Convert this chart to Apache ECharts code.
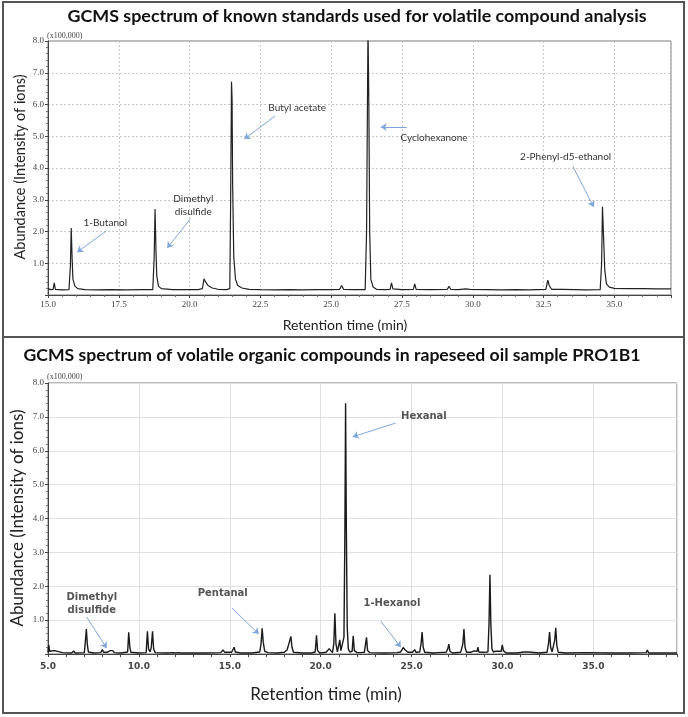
<!DOCTYPE html>
<html>
<head>
<meta charset="utf-8">
<script src="https://cdn.jsdelivr.net/npm/echarts@6/dist/echarts.min.js"></script>
<style>
  html, body { margin: 0; padding: 0; background: #fff; }
  #chart { width: 688px; height: 717px; }
</style>
</head>
<body>
<div id="chart"></div>
<script>
// standards run, [retention time (min), abundance x100,000]
const standardsTrace = [
  [15.0, 0.2], [15.1, 0.17], [15.18, 0.18], [15.22, 0.38], [15.26, 0.18], [15.5, 0.16],
  [15.74, 0.17], [15.79, 0.9], [15.82, 2.11], [15.85, 1.2], [15.88, 0.5], [15.95, 0.28],
  [16.05, 0.2], [16.3, 0.17], [16.7, 0.16], [17.2, 0.17], [17.8, 0.16], [18.3, 0.17],
  [18.7, 0.17], [18.75, 1.2], [18.78, 2.71], [18.81, 1.5], [18.84, 0.6], [18.9, 0.28],
  [19.0, 0.2], [19.4, 0.17], [19.9, 0.17], [20.3, 0.17], [20.45, 0.2], [20.51, 0.51],
  [20.56, 0.42], [20.65, 0.3], [20.8, 0.22], [21.0, 0.18], [21.3, 0.17], [21.42, 0.2],
  [21.45, 3.0], [21.48, 6.72], [21.5, 6.2], [21.52, 3.5], [21.56, 1.2], [21.62, 0.5],
  [21.7, 0.3], [21.85, 0.22], [22.1, 0.18], [22.5, 0.17], [23.0, 0.16], [23.5, 0.17],
  [24.0, 0.16], [24.5, 0.17], [25.0, 0.17], [25.3, 0.18], [25.37, 0.3], [25.44, 0.18],
  [25.8, 0.17], [26.2, 0.17], [26.25, 2.0], [26.3, 8.5], [26.33, 6.0], [26.36, 2.0],
  [26.4, 0.5], [26.48, 0.25], [26.6, 0.18], [26.9, 0.17], [27.08, 0.18], [27.13, 0.38],
  [27.18, 0.19], [27.5, 0.17], [27.9, 0.18], [27.95, 0.35], [28.0, 0.18], [28.5, 0.17],
  [29.1, 0.18], [29.16, 0.27], [29.22, 0.18], [29.5, 0.17], [29.75, 0.19], [29.8, 0.22],
  [29.9, 0.18], [30.5, 0.17], [31.0, 0.16], [31.5, 0.17], [32.0, 0.16], [32.58, 0.18],
  [32.65, 0.47], [32.7, 0.3], [32.78, 0.18], [33.05, 0.18], [33.1, 0.22], [33.15, 0.18],
  [33.6, 0.17], [34.0, 0.16], [34.5, 0.17], [34.55, 1.0], [34.58, 2.78], [34.62, 1.8],
  [34.66, 0.8], [34.72, 0.35], [34.82, 0.25], [35.0, 0.21], [35.5, 0.2], [36.0, 0.2],
  [36.5, 0.19], [37.0, 0.19]
];

// rapeseed oil sample PRO1B1
const sampleTrace = [
  [5.0, 0.05], [5.04, 0.27], [5.09, 0.08], [5.2, 0.05], [5.37, 0.1], [5.45, 0.05],
  [5.8, 0.04], [6.3, 0.03], [6.41, 0.09], [6.5, 0.03], [7.0, 0.04], [7.06, 0.4],
  [7.11, 0.74], [7.16, 0.3], [7.22, 0.06], [7.5, 0.03], [7.9, 0.04], [7.99, 0.13],
  [8.06, 0.05], [8.17, 0.1], [8.25, 0.05], [8.42, 0.1], [8.49, 0.15], [8.56, 0.1],
  [8.65, 0.04], [9.0, 0.03], [9.38, 0.06], [9.44, 0.64], [9.5, 0.2], [9.56, 0.05],
  [10.0, 0.03], [10.4, 0.04], [10.47, 0.67], [10.53, 0.15], [10.62, 0.06], [10.68, 0.2],
  [10.75, 0.67], [10.81, 0.15], [10.9, 0.04], [11.5, 0.03], [11.9, 0.04], [11.97, 0.06],
  [12.05, 0.03], [12.2, 0.04], [12.25, 0.07], [12.32, 0.03], [13.0, 0.03], [13.8, 0.03],
  [14.5, 0.04], [14.63, 0.12], [14.72, 0.05], [15.1, 0.05], [15.24, 0.2], [15.3, 0.06],
  [15.6, 0.03], [16.2, 0.03], [16.65, 0.06], [16.72, 0.3], [16.78, 0.76], [16.84, 0.35],
  [16.92, 0.08], [17.1, 0.04], [17.6, 0.03], [18.0, 0.05], [18.15, 0.12], [18.25, 0.3],
  [18.31, 0.35], [18.36, 0.52], [18.42, 0.2], [18.5, 0.05], [19.0, 0.03], [19.5, 0.03],
  [19.7, 0.06], [19.77, 0.55], [19.83, 0.1], [19.95, 0.03], [20.3, 0.05], [20.47, 0.16],
  [20.55, 0.1], [20.65, 0.04], [20.72, 0.3], [20.78, 1.2], [20.84, 0.3], [20.92, 0.06],
  [20.99, 0.1], [21.05, 0.42], [21.11, 0.1], [21.2, 0.05], [21.28, 0.5], [21.33, 3.5],
  [21.37, 7.4], [21.41, 3.8], [21.46, 0.8], [21.52, 0.15], [21.6, 0.06], [21.73, 0.08],
  [21.79, 0.54], [21.85, 0.1], [22.0, 0.04], [22.2, 0.04], [22.4, 0.05], [22.46, 0.1],
  [22.52, 0.49], [22.58, 0.1], [22.7, 0.04], [23.5, 0.03], [24.2, 0.04], [24.4, 0.06],
  [24.54, 0.19], [24.65, 0.12], [24.8, 0.05], [25.05, 0.05], [25.17, 0.13], [25.25, 0.05],
  [25.45, 0.06], [25.52, 0.3], [25.58, 0.65], [25.64, 0.2], [25.72, 0.05], [26.2, 0.03],
  [26.45, 0.04], [26.5, 0.07], [26.56, 0.03], [26.9, 0.05], [26.99, 0.15], [27.05, 0.29],
  [27.11, 0.08], [27.25, 0.03], [27.7, 0.05], [27.82, 0.3], [27.88, 0.74], [27.94, 0.2],
  [28.02, 0.05], [28.25, 0.05], [28.3, 0.08], [28.36, 0.05], [28.43, 0.09], [28.5, 0.05],
  [28.6, 0.08], [28.65, 0.2], [28.7, 0.06], [28.9, 0.05], [28.94, 0.07], [29.0, 0.04],
  [29.2, 0.06], [29.26, 0.9], [29.31, 2.34], [29.36, 0.9], [29.42, 0.15], [29.5, 0.06],
  [29.62, 0.08], [29.7, 0.05], [29.93, 0.08], [29.99, 0.27], [30.05, 0.1], [30.12, 0.06],
  [30.2, 0.03], [30.8, 0.03], [31.18, 0.06], [31.25, 0.03], [31.45, 0.06], [31.52, 0.03],
  [32.0, 0.03], [32.45, 0.05], [32.53, 0.3], [32.59, 0.65], [32.65, 0.2], [32.73, 0.06],
  [32.8, 0.1], [32.87, 0.4], [32.93, 0.77], [32.99, 0.25], [33.07, 0.05], [33.5, 0.03],
  [34.58, 0.04], [34.65, 0.03], [35.9, 0.03], [35.95, 0.05], [36.0, 0.03], [37.0, 0.03],
  [37.9, 0.04], [37.97, 0.12], [38.04, 0.03], [38.8, 0.03], [39.6, 0.03]
];

// labels: text, text position, arrow from, arrow to (data coords)
const standardsLabels = [
  { text: '1-Butanol', at: [17.02, 2.27], from: [17.06, 2.02], to: [16.03, 1.35] },
  { text: 'Dimethyl\ndisulfide', at: [20.13, 2.82], from: [20.02, 2.39], to: [19.21, 1.48] },
  { text: 'Butyl acetate', at: [23.8, 5.89], from: [23.02, 5.64], to: [21.93, 4.91] },
  { text: 'Cyclohexanone', at: [28.63, 4.94], from: [27.67, 5.29], to: [26.75, 5.29] },
  { text: '2-Phenyl-d5-ethanol', at: [33.28, 4.35], from: [33.53, 4.06], to: [34.27, 2.77] }
];
const sampleLabels = [
  { text: 'Dimethyl\ndisulfide', at: [7.41, 1.49], from: [7.13, 1.09], to: [8.23, 0.17] },
  { text: 'Pentanal', at: [14.61, 1.8], from: [15.11, 1.36], to: [16.6, 0.59] },
  { text: 'Hexanal', at: [25.68, 7.0], from: [24.13, 6.82], to: [21.76, 6.41] },
  { text: '1-Hexanol', at: [23.92, 1.5], from: [23.31, 0.97], to: [24.41, 0.2] }
];

const chart = echarts.init(document.getElementById('chart'));
const arrowColor = '#7fa6dc';

function marks(labels, font) {
  return {
    markPoint: {
      silent: true,
      symbol: 'circle',
      symbolSize: 1,
      itemStyle: { color: 'rgba(0,0,0,0)' },
      label: Object.assign({ show: true, position: 'inside', align: 'center', lineHeight: font.fontSize + 3, formatter: p => p.name }, font),
      data: labels.map(l => ({ name: l.text, coord: l.at }))
    },
    markLine: {
      silent: true,
      symbol: ['none', 'arrow'],
      symbolSize: 6,
      label: { show: false },
      lineStyle: { color: arrowColor, width: 1, type: 'solid' },
      data: labels.map(l => [{ coord: l.from }, { coord: l.to }])
    }
  };
}

chart.setOption({
  animation: false,
  backgroundColor: '#fff',
  graphic: [
    { type: 'rect', shape: { x: 3, y: 2, width: 681, height: 335 }, style: { fill: 'none', stroke: '#555', lineWidth: 2 } },
    { type: 'rect', shape: { x: 3, y: 337, width: 681, height: 376 }, style: { fill: 'none', stroke: '#555', lineWidth: 2 } },
    { type: 'text', x: 357, y: 16, style: { text: 'GCMS spectrum of known standards used for volatile compound analysis', font: 'bold 17.9px Lato', fill: '#111', textAlign: 'center', textVerticalAlign: 'middle' } },
    { type: 'text', x: 332, y: 355, style: { text: 'GCMS spectrum of volatile organic compounds in rapeseed oil sample PRO1B1', font: 'bold 17.6px Lato', fill: '#111', textAlign: 'center', textVerticalAlign: 'middle' } },
    { type: 'text', x: 345, y: 325, style: { text: 'Retention time (min)', font: '14px Lato', fill: '#222', textAlign: 'center', textVerticalAlign: 'middle' } },
    { type: 'text', x: 326, y: 695, style: { text: 'Retention time (min)', font: '17px Lato', fill: '#222', textAlign: 'center', textVerticalAlign: 'middle' } },
    { type: 'text', x: 20, y: 167, rotation: Math.PI / 2, style: { text: 'Abundance (Intensity of ions)', font: '14.5px Lato', fill: '#222', textAlign: 'center', textVerticalAlign: 'middle' } },
    { type: 'text', x: 18, y: 518, rotation: Math.PI / 2, style: { text: 'Abundance (Intensity of ions)', font: '17px Lato', fill: '#222', textAlign: 'center', textVerticalAlign: 'middle' } },
    { type: 'text', x: 47, y: 36, style: { text: '(x100,000)', font: '8px "Liberation Sans Narrow"', fill: '#444', textVerticalAlign: 'middle' } },
    { type: 'text', x: 47, y: 377, style: { text: '(x100,000)', font: '8px "Liberation Sans Narrow"', fill: '#444', textVerticalAlign: 'middle' } }
  ],
  grid: [
    { left: 48, right: 17, top: 41, bottom: 422, show: true, borderColor: '#777', borderWidth: 1 },
    { left: 48, right: 11, top: 383, bottom: 63, show: true, borderColor: '#777', borderWidth: 1 }
  ],
  xAxis: [
    {
      gridIndex: 0, type: 'value', min: 15, max: 37, interval: 2.5,
      axisLine: { lineStyle: { color: '#444' } },
      axisTick: { lineStyle: { color: '#444' }, length: 3 },
      minorTick: { show: true, splitNumber: 5, length: 2, lineStyle: { color: '#666' } },
      axisLabel: { color: '#444', fontSize: 9, fontFamily: 'Liberation Sans Narrow', margin: 5, formatter: v => (Math.abs(v / 2.5 - Math.round(v / 2.5)) < 1e-6 && v < 36 ? v.toFixed(1) : '') },
      splitLine: { show: true, lineStyle: { color: '#c8c8c8', type: [2, 2] } }
    },
    {
      gridIndex: 1, type: 'value', min: 5, max: 39.6, interval: 5,
      axisLine: { lineStyle: { color: '#444' } },
      axisTick: { lineStyle: { color: '#444' }, length: 3 },
      minorTick: { show: true, splitNumber: 5, length: 3, lineStyle: { color: '#444' } },
      axisLabel: { color: '#444', fontSize: 9, fontWeight: 'bold', fontFamily: 'DejaVu Sans', margin: 8, formatter: v => (v % 5 === 0 ? v.toFixed(1) : '') },
      splitLine: { show: true, lineStyle: { color: '#e0e0e0', width: 1 } }
    }
  ],
  yAxis: [
    {
      gridIndex: 0, type: 'value', min: 0, max: 8, interval: 1,
      axisLine: { show: true, lineStyle: { color: '#444' } },
      axisTick: { show: true, lineStyle: { color: '#444' }, length: 3 },
      minorTick: { show: true, splitNumber: 5, length: 2, lineStyle: { color: '#777' } },
      axisLabel: { color: '#444', fontSize: 9, fontFamily: 'Liberation Sans Narrow', margin: 4, formatter: v => (v === 0 ? '' : v.toFixed(1)) },
      splitLine: { show: true, lineStyle: { color: '#c8c8c8', type: [2, 2] } }
    },
    {
      gridIndex: 1, type: 'value', min: 0, max: 8, interval: 1,
      axisLine: { show: true, lineStyle: { color: '#444' } },
      axisTick: { show: true, lineStyle: { color: '#444' }, length: 3 },
      minorTick: { show: true, splitNumber: 5, length: 2, lineStyle: { color: '#777' } },
      axisLabel: { color: '#444', fontSize: 9, fontFamily: 'Liberation Sans Narrow', margin: 4, formatter: v => (v === 0 ? '' : v.toFixed(1)) },
      splitLine: { show: true, lineStyle: { color: '#e0e0e0' } }
    }
  ],
  series: [
    Object.assign({
      type: 'line', xAxisIndex: 0, yAxisIndex: 0, data: standardsTrace,
      showSymbol: false, clip: true,
      lineStyle: { color: '#222', width: 1.2 }
    }, marks(standardsLabels, { fontFamily: 'Lato', fontSize: 10, color: '#333' })),
    Object.assign({
      type: 'line', xAxisIndex: 1, yAxisIndex: 1, data: sampleTrace,
      showSymbol: false, clip: true,
      lineStyle: { color: '#1a1a1a', width: 1.4 }
    }, marks(sampleLabels, { fontFamily: 'DejaVu Sans', fontSize: 10, fontWeight: 'bold', color: '#555' }))
  ]
});
</script>
</body>
</html>
